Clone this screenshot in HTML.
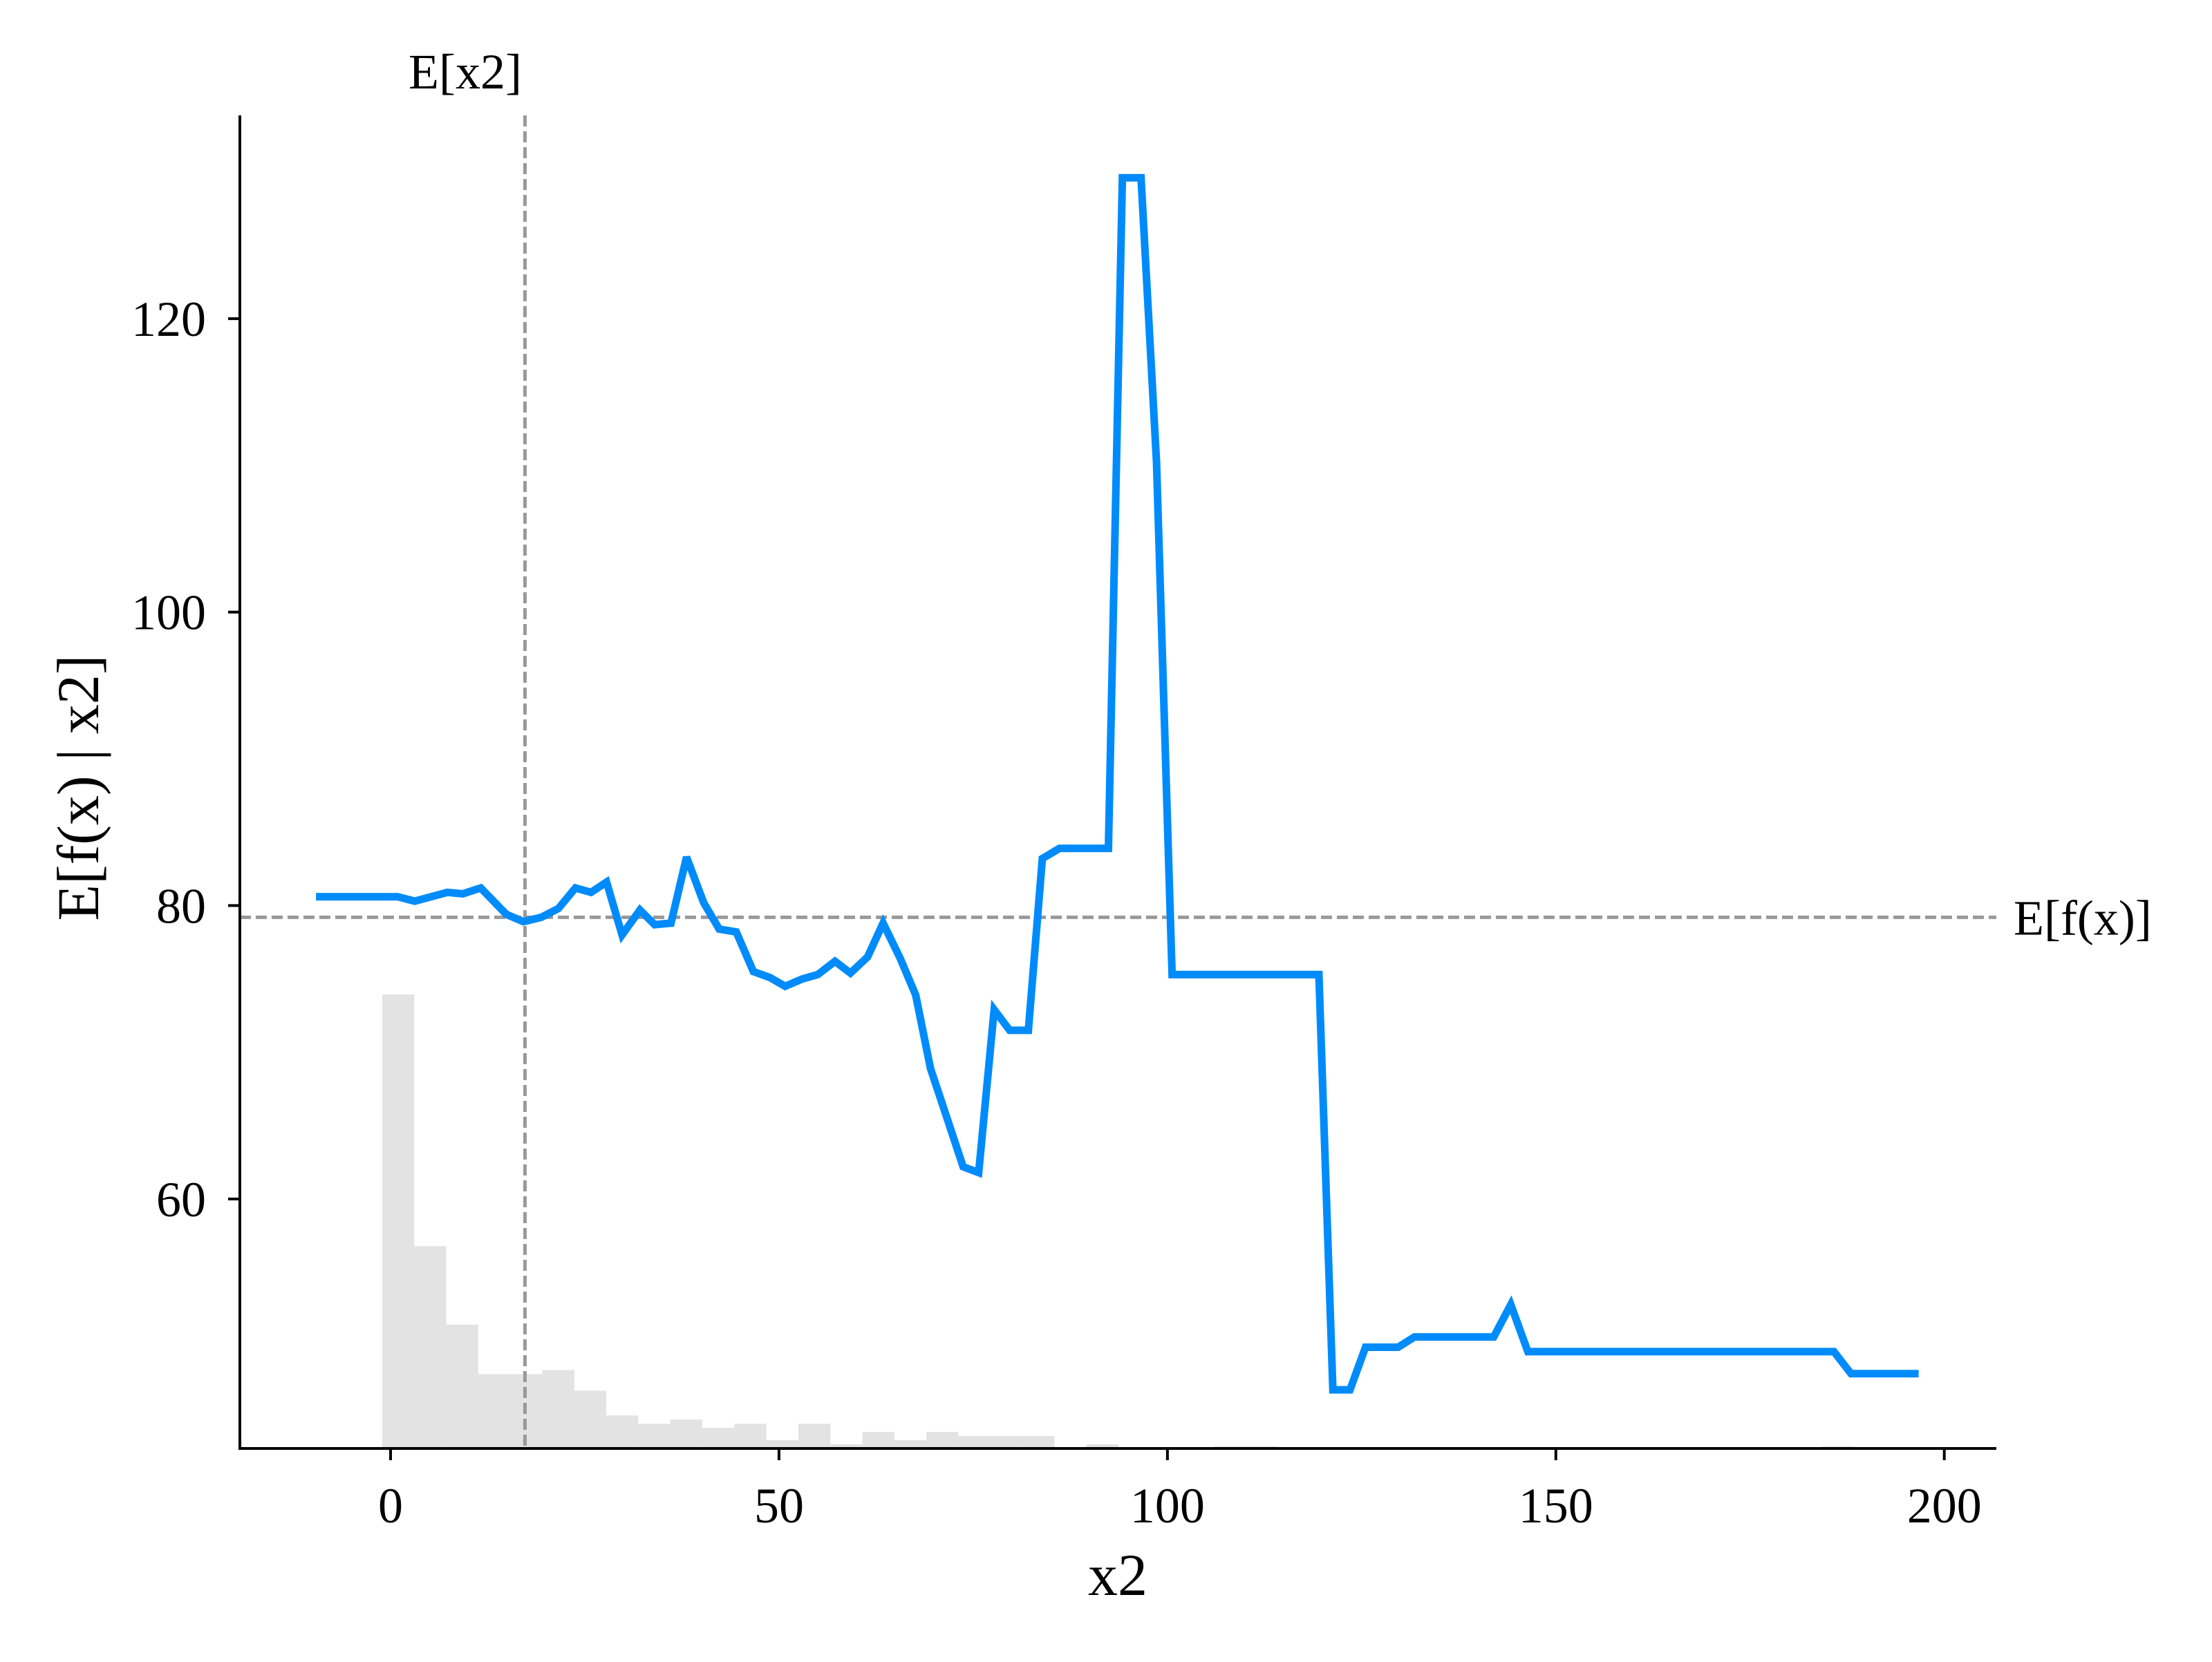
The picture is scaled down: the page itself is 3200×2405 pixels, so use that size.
<!DOCTYPE html>
<html><head><meta charset="utf-8"><style>
html,body{margin:0;padding:0;background:#fff;}
svg text{font-family:"Liberation Serif",serif;fill:#000;}
</style></head><body>
<svg id="chart" width="3200" height="2400" viewBox="0 0 3200 2400" xmlns="http://www.w3.org/2000/svg">
<g id="hist"></g>
<g id="refs"></g>
<g id="series"></g>
<g id="axes"></g>
</svg>
<script>
const lineX = [-9.6,0.9,3.1,7.3,9.3,11.6,14.9,17.1,19.4,21.6,23.8,25.8,27.8,29.8,32.1,34.0,36.1,38.1,40.3,42.3,44.5,46.7,48.8,50.8,53.0,55.0,57.2,59.2,61.4,63.4,65.6,67.6,69.5,71.7,73.7,75.7,77.7,79.7,82.1,83.9,86.1,92.4,94.2,96.6,98.6,100.6,119.5,121.3,123.5,125.5,129.7,131.8,142.0,144.2,146.4,185.8,188.0,196.7];
const lineY = [80.6,80.6,80.3,80.9,80.8,81.2,79.4,78.9,79.2,79.8,81.2,80.9,81.6,78.0,79.7,78.7,78.8,83.3,80.2,78.4,78.2,75.5,75.1,74.5,75.0,75.3,76.2,75.4,76.5,78.8,76.4,73.9,68.9,65.4,62.2,61.8,72.9,71.5,71.5,83.2,83.9,83.9,129.6,129.6,110.2,75.3,75.3,47.0,47.0,49.9,49.9,50.6,50.6,52.8,49.6,49.6,48.1,48.1];
const histCounts = [110,49,30,18,18,19,14,8,6,7,5,6,2,6,1,4,2,4,3,3,3,0,1,0,0,0,0.5,0.5,0,0,0,0,0,0,0,0,0,0,0,0,0,0,0,0,0,0.5,0,0];
const histStart = -1.07;
const histWidth = 4.12;
const xTicks = [0,50,100,150,200];
const yTicks = [60,80,100,120];
const meanX = 17.3;
const meanY = 79.2;

const L=347,R=2888,T=167,B=2096;
const xMin=-19.4,xMax=206.7,yMin=43.0,yMax=133.85;
function sx(v){return L+(v-xMin)/(xMax-xMin)*(R-L);}
function sy(v){return B-(v-yMin)/(yMax-yMin)*(B-T);}
const histPxPerCount=657/110;
const NS="http://www.w3.org/2000/svg";
function mk(parent,tag,attrs){const e=document.createElementNS(NS,tag);for(const k in attrs)e.setAttribute(k,attrs[k]);parent.appendChild(e);return e;}

const hist=document.getElementById('hist');
histCounts.forEach((c,i)=>{
  if(c<=0)return;
  const x0=sx(histStart+i*histWidth),x1=sx(histStart+(i+1)*histWidth);
  const h=c*histPxPerCount;
  const r=mk(hist,'rect',{x:x0,y:B-h,width:x1-x0,height:h,fill:'#e3e3e3'});
  
  
});

const refs=document.getElementById('refs');
const vl=mk(refs,'line',{x1:sx(meanX),x2:sx(meanX),y1:T,y2:B,stroke:'#999',"stroke-width":5,"stroke-dasharray":"16,7"});


const hl=mk(refs,'line',{x1:L,x2:R,y1:sy(meanY),y2:sy(meanY),stroke:'#999',"stroke-width":5,"stroke-dasharray":"16,7"});


const t1=mk(refs,'text',{x:673,y:128,"font-size":72,"text-anchor":"middle"});
t1.textContent='E[x2]';


const t2=mk(refs,'text',{x:2913,y:sy(meanY)+25,"font-size":72});
t2.textContent='E[f(x)]';



const series=document.getElementById('series');
const pts=lineX.map((x,i)=>sx(x).toFixed(1)+','+sy(lineY[i]).toFixed(1)).join(' ');
const pl=mk(series,'polyline',{points:pts,fill:'none',stroke:'#008bfb',"stroke-width":11,"stroke-linejoin":"miter","stroke-miterlimit":3});



const axes=document.getElementById('axes');
const ls=mk(axes,'line',{x1:L,x2:L,y1:T,y2:B+2,stroke:'#000',"stroke-width":4});


const bs=mk(axes,'line',{x1:L-2,x2:R,y1:B,y2:B,stroke:'#000',"stroke-width":4});


xTicks.forEach(v=>{
  const tk=mk(axes,'line',{x1:sx(v),x2:sx(v),y1:B,y2:B+17,stroke:'#000',"stroke-width":4});
  
  
  const tx=mk(axes,'text',{x:sx(v),y:2203,"font-size":72,"text-anchor":"middle"});
  tx.textContent=String(v);
  
  
});
yTicks.forEach(v=>{
  const tk=mk(axes,'line',{x1:L-17,x2:L,y1:sy(v),y2:sy(v),stroke:'#000',"stroke-width":4});
  
  
  const tx=mk(axes,'text',{x:298,y:sy(v)+25,"font-size":72,"text-anchor":"end"});
  tx.textContent=String(v);
  
  
});
const xl=mk(axes,'text',{x:1617,y:2308,"font-size":86,"text-anchor":"middle"});
xl.textContent='x2';


const yl=mk(axes,'text',{x:0,y:0,"font-size":86,"text-anchor":"middle",transform:'translate(142,1140) rotate(-90)'});
yl.textContent='E[f(x) | x2]';


</script>
</body></html>
